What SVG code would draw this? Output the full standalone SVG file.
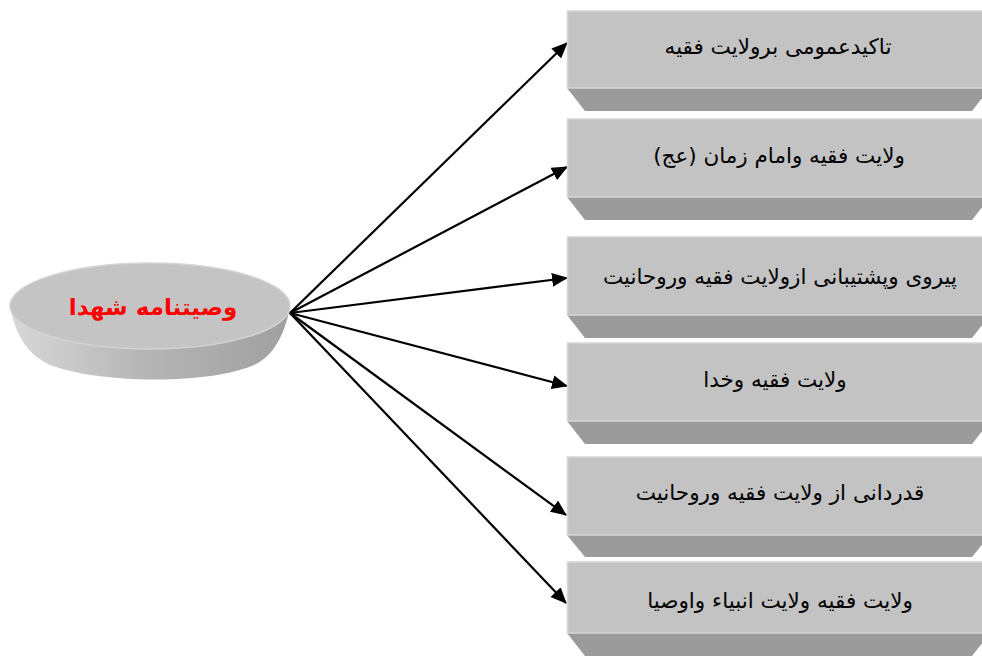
<svg xmlns="http://www.w3.org/2000/svg" width="982" height="656" viewBox="0 0 982 656">
<defs>
<style>
.face{fill:#c3c3c3;stroke:#d6d6d6;stroke-width:1.5}
.bevel{fill:#9b9b9b}
.lbl{font-family:"DejaVu Sans","Noto Sans",sans-serif;font-size:21.5px;fill:#000;text-anchor:middle;dominant-baseline:central}
.conn{stroke:#000;stroke-width:2.2;fill:none;marker-end:url(#ah)}
</style>
<marker id="ah" markerUnits="userSpaceOnUse" markerWidth="16" markerHeight="14" refX="15" refY="7" orient="auto">
<path d="M0,0 L16,7 L0,14 Z" fill="#000"/>
</marker>
<linearGradient id="side" x1="0" y1="0" x2="1" y2="0">
<stop offset="0" stop-color="#d8d8d8"/>
<stop offset="0.5" stop-color="#b4b4b4"/>
<stop offset="1" stop-color="#a0a0a0"/>
</linearGradient>
</defs>
<rect width="982" height="656" fill="#fff"/>
<g id="center">
<path d="M10,307 C16,335 26,352 46,363 C90,384 215,386 258,363 C276,352 285,332 290,307 Z" fill="url(#side)"/>
<ellipse cx="150" cy="306" rx="140" ry="43" fill="#c4c4c4" stroke="#d4d4d4" stroke-width="1.5"/>
<text x="153" y="307" font-family="DejaVu Sans, sans-serif" font-size="23" font-weight="bold" fill="#ff0000" text-anchor="middle" dominant-baseline="central">وصیتنامه شهدا</text>
</g>
<g id="connectors">
<line class="conn" x1="290" y1="313" x2="567" y2="43"/>
<line class="conn" x1="290" y1="313" x2="567" y2="167"/>
<line class="conn" x1="290" y1="313" x2="567" y2="278"/>
<line class="conn" x1="290" y1="313" x2="567" y2="386"/>
<line class="conn" x1="290" y1="313" x2="566" y2="515"/>
<line class="conn" x1="290" y1="313" x2="566" y2="603"/>
</g>
<g id="n1">
<polygon class="bevel" points="567,88 990,88 972,111 585,111"/>
<rect class="face" x="567.5" y="11" width="430" height="77"/>
<text class="lbl" x="778" y="46">تاکیدعمومی برولایت فقیه</text>
</g>
<g id="n2">
<polygon class="bevel" points="567,197 990,197 972,220 585,220"/>
<rect class="face" x="567.5" y="119" width="430" height="78"/>
<text class="lbl" x="779" y="155">ولایت فقیه وامام زمان (عج)</text>
</g>
<g id="n3">
<polygon class="bevel" points="567,315 990,315 972,338 585,338"/>
<rect class="face" x="567.5" y="237" width="430" height="78"/>
<text class="lbl" x="780" y="276">پیروی وپشتیبانی ازولایت فقیه وروحانیت</text>
</g>
<g id="n4">
<polygon class="bevel" points="567,421 990,421 972,444 585,444"/>
<rect class="face" x="567.5" y="343" width="430" height="78"/>
<text class="lbl" x="775" y="379">ولایت فقیه وخدا</text>
</g>
<g id="n5">
<polygon class="bevel" points="567,535 990,535 972,557 585,557"/>
<rect class="face" x="567.5" y="457" width="430" height="78"/>
<text class="lbl" x="780" y="492">قدردانی از ولایت فقیه وروحانیت</text>
</g>
<g id="n6">
<polygon class="bevel" points="567,633 990,633 972,656 585,656"/>
<rect class="face" x="567.5" y="562" width="430" height="71"/>
<text class="lbl" x="780" y="600">ولایت فقیه ولایت انبیاء واوصیا</text>
</g>
</svg>
